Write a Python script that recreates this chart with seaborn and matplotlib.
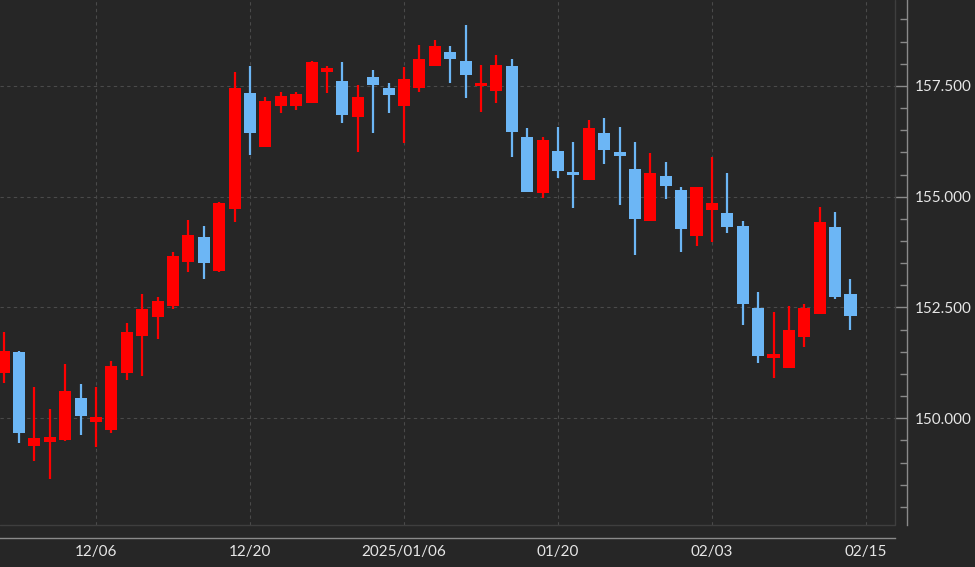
import numpy as np
import matplotlib
matplotlib.use('Agg')
import matplotlib.pyplot as plt
import seaborn as sns
from matplotlib.ticker import FixedLocator, MultipleLocator, FuncFormatter

# OHLC values (one candle per trading day)
opens = [151.02, 151.50, 149.37, 149.46, 149.51, 150.46, 149.92, 149.73, 151.02, 151.86,
         152.29, 152.53, 153.53, 154.09, 153.32, 154.72, 157.34, 156.12, 157.05, 157.05,
         157.12, 157.82, 157.61, 156.80, 157.70, 157.45, 157.05, 157.45, 157.95, 158.27,
         158.06, 157.50, 157.39, 157.95, 156.35, 155.08, 156.03, 155.56, 155.38, 156.44,
         156.01, 155.63, 154.45, 155.47, 155.15, 154.11, 154.70, 154.63, 154.34, 152.49,
         151.36, 151.13, 151.83, 152.35, 154.32, 152.80]
highs = [151.95, 151.52, 150.71, 150.21, 151.22, 150.77, 150.71, 151.29, 152.15, 152.80,
         152.74, 153.75, 154.48, 154.34, 154.88, 157.82, 157.95, 157.25, 157.36, 157.36,
         158.06, 157.95, 158.04, 157.52, 157.86, 157.57, 157.93, 158.43, 158.54, 158.40,
         158.88, 157.97, 158.20, 158.11, 156.55, 156.35, 156.57, 156.24, 156.73, 156.78,
         156.57, 156.24, 155.99, 155.78, 155.22, 155.22, 155.90, 155.54, 154.45, 152.85,
         152.40, 152.53, 152.58, 154.77, 154.66, 153.14]
lows = [150.80, 149.44, 149.03, 148.63, 149.48, 149.62, 149.35, 149.67, 150.86, 150.95,
        151.79, 152.47, 153.30, 153.14, 153.30, 154.43, 155.94, 156.12, 156.89, 156.96,
        157.12, 157.34, 156.66, 156.01, 156.44, 156.89, 156.21, 157.36, 157.95, 157.57,
        157.23, 156.91, 157.12, 155.90, 155.11, 154.97, 155.42, 154.75, 155.38, 155.74,
        154.81, 153.69, 154.45, 154.95, 153.75, 153.89, 153.98, 154.18, 152.10, 151.25,
        150.91, 151.13, 151.61, 152.35, 152.69, 151.99]
closes = [151.52, 149.67, 149.55, 149.58, 150.62, 150.05, 150.03, 151.18, 151.95, 152.47,
          152.65, 153.66, 154.14, 153.50, 154.86, 157.45, 156.44, 157.16, 157.27, 157.32,
          158.04, 157.91, 156.85, 157.25, 157.52, 157.30, 157.66, 158.11, 158.40, 158.11,
          157.75, 157.57, 157.97, 156.46, 155.11, 156.28, 155.58, 155.49, 156.55, 156.06,
          155.92, 154.50, 155.54, 155.24, 154.27, 155.22, 154.86, 154.32, 152.58, 151.41,
          151.45, 151.99, 152.49, 154.43, 152.74, 152.31]

date_labels = ['12/06', '12/20', '2025/01/06', '01/20', '02/03', '02/15']
label_idx = [6, 16, 26, 36, 46, 56]
price_ticks = [150.0, 152.5, 155.0, 157.5]

bg = '#262626'
txt = '#e6e6e6'
axis_col = '#8a8a8a'
frame_col = '#3e3e3e'
grid_col = '#4a4a4a'
up_col = '#ff0000'
down_col = '#6cb6f5'

sns.set_theme(style='dark', rc={'axes.facecolor': bg, 'figure.facecolor': bg})
plt.rcParams['font.family'] = ['Lato', 'DejaVu Sans']

fig = plt.figure(figsize=(9.75, 5.67), dpi=100)
ax = fig.add_axes([0.0, 42 / 567, 895 / 975, 525 / 567])
ax.set_facecolor(bg)

x = np.arange(len(opens))
o = np.array(opens)
c = np.array(closes)
h = np.array(highs)
l = np.array(lows)
colors = np.where(c >= o, up_col, down_col)

# wicks then bodies
ax.vlines(x, l, h, colors=colors, linewidth=1.6, zorder=2)
body_h = np.maximum(np.abs(c - o), 0.06)
body_b = np.minimum(o, c)
ax.bar(x, body_h, bottom=body_b, width=0.78, color=colors, linewidth=0, zorder=3)

ax.set_xlim(-0.23, 57.89)
ax.set_ylim(147.59, 159.44)

# grid
for xi in label_idx:
    ax.axvline(xi, color=grid_col, linestyle=(0, (3, 3)), linewidth=0.8, zorder=1)
for yi in price_ticks:
    ax.axhline(yi, color=grid_col, linestyle=(0, (3, 3)), linewidth=0.8, zorder=1)

# faint frame of the plot area
ax.plot([0, 1, 1], [0, 0, 1], transform=ax.transAxes, color=frame_col,
        linewidth=1, clip_on=False, zorder=1)

# x axis
ax.xaxis.set_major_locator(FixedLocator(label_idx))
ax.xaxis.set_minor_locator(MultipleLocator(2))
ax.set_xticklabels(date_labels)
ax.tick_params(axis='x', which='major', direction='in', length=9, width=1,
               color=axis_col, labelcolor=txt, labelsize=11, pad=5)
ax.tick_params(axis='x', which='minor', direction='in', length=5.5, width=1, color=axis_col)

# y axis on the right
ax.yaxis.tick_right()
ax.yaxis.set_major_locator(FixedLocator(price_ticks))
ax.yaxis.set_minor_locator(MultipleLocator(0.5))
ax.yaxis.set_major_formatter(FuncFormatter(lambda v, p: f'{v:.3f}'))
ax.tick_params(axis='y', which='major', direction='in', length=8.5, width=1,
               color=axis_col, labelcolor=txt, labelsize=11, pad=6)
ax.tick_params(axis='y', which='minor', direction='in', length=5, width=1, color=axis_col)

for s in ['top', 'left']:
    ax.spines[s].set_visible(False)
ax.spines['bottom'].set_color(axis_col)
ax.spines['bottom'].set_linewidth(1)
ax.spines['bottom'].set_position(('outward', 9.5))
ax.spines['right'].set_color(axis_col)
ax.spines['right'].set_linewidth(1)
ax.spines['right'].set_position(('outward', 8.5))
ax.grid(False)

fig.savefig('out.png', dpi=100, facecolor=bg)
